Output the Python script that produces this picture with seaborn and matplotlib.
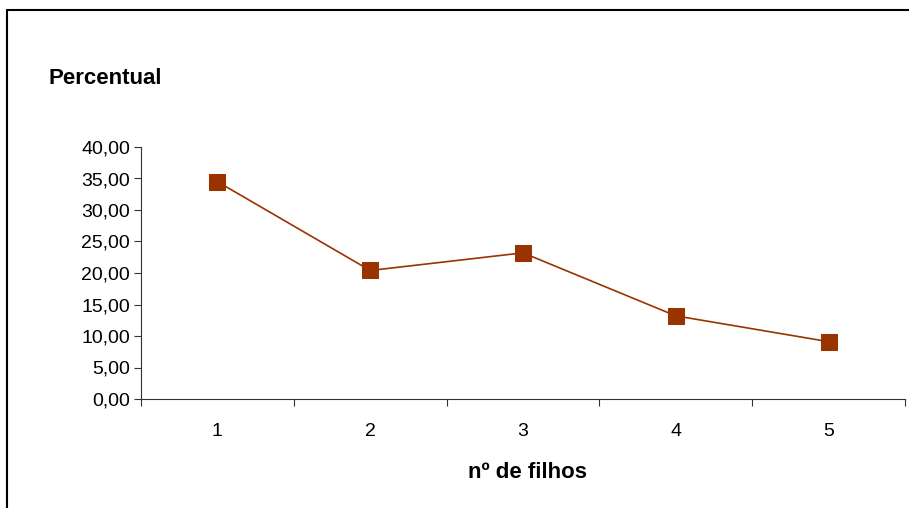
import pandas as pd
import matplotlib
matplotlib.use('Agg')
import matplotlib.pyplot as plt
from matplotlib.lines import Line2D
from matplotlib.ticker import FixedLocator, FuncFormatter, NullFormatter
import seaborn as sns

# --- DADOS ---
filhos = [1, 2, 3, 4, 5]
percentual = [34.5, 20.4, 23.2, 13.2, 9.1]
y_ticks = [0, 5, 10, 15, 20, 25, 30, 35, 40]

dados = pd.DataFrame({'filhos': filhos, 'percentual': percentual})

# --- ESTILO ---
sns.set_style('white')
plt.rcParams['font.family'] = ['Liberation Sans', 'DejaVu Sans']
plt.rcParams['text.color'] = 'black'
plt.rcParams['xtick.color'] = 'black'
plt.rcParams['ytick.color'] = 'black'
cor = '#993300'

fig = plt.figure(figsize=(9.09, 5.08), dpi=100)
ax = fig.add_axes([141/909, 1 - 399/508, (905 - 141)/909, (399 - 147)/508])

sns.lineplot(data=dados, x='filhos', y='percentual', ax=ax, color=cor,
             marker='s', markersize=11, markeredgecolor=cor, linewidth=1.2)

ax.set_xlim(0.5, 5.5)
ax.set_ylim(0, 40)

# eixo x: marcas entre categorias, rótulos no centro
ax.xaxis.set_major_locator(FixedLocator([0.5, 1.5, 2.5, 3.5, 4.5, 5.5]))
ax.xaxis.set_major_formatter(NullFormatter())
ax.xaxis.set_minor_locator(FixedLocator(filhos))
ax.xaxis.set_minor_formatter(FuncFormatter(lambda v, p: f'{int(v)}'))
ax.tick_params(axis='x', which='major', direction='out', length=5, width=0.8,
               color='#333333', bottom=True)
ax.tick_params(axis='x', which='minor', length=0, pad=17, labelsize=14,
               labelcolor='black')

ax.set_yticks(y_ticks)
ax.yaxis.set_major_formatter(FuncFormatter(lambda v, p: f'{v:.2f}'.replace('.', ',')))
ax.tick_params(axis='y', direction='out', length=5, width=0.8, color='#333333',
               left=True, labelsize=14, pad=3, labelcolor='black')

for lado in ['top', 'right']:
    ax.spines[lado].set_visible(False)
for lado in ['left', 'bottom']:
    ax.spines[lado].set_color('#333333')
    ax.spines[lado].set_linewidth(0.8)

ax.set_xlabel('')
ax.set_ylabel('')
fig.text(48/909, 1 - 78/508, 'Percentual', fontsize=16, fontweight='bold',
         ha='left', va='center', color='black')
fig.text(527/909, 1 - 473/508, 'nº de filhos', fontsize=16, fontweight='bold',
         ha='center', va='center', color='black')

# moldura do gráfico (só topo e esquerda visíveis)
fig.add_artist(Line2D([7.5/909, 1.0], [1 - 9.5/508, 1 - 9.5/508], color='black', lw=1.5))
fig.add_artist(Line2D([7.5/909, 7.5/909], [0, 1 - 9.5/508], color='black', lw=1.5))

fig.savefig('out.png', dpi=100)
plt.close()
